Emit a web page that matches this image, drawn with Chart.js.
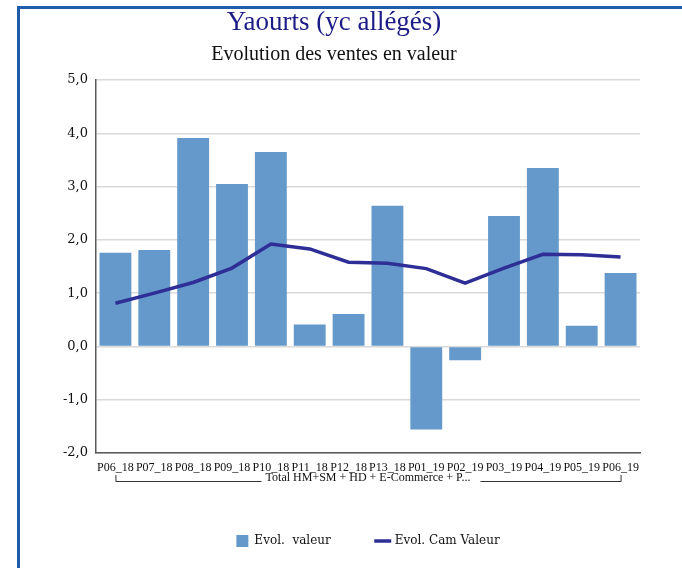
<!DOCTYPE html>
<html>
<head>
<meta charset="utf-8">
<script src="https://cdn.jsdelivr.net/npm/chart.js@4.4.1/dist/chart.umd.min.js"></script>
<style>
  html, body { margin: 0; padding: 0; background: #fff; }
  #wrap { position: relative; width: 682px; height: 568px; overflow: hidden; }
  #frame {
    position: absolute; left: 17px; top: 6px; right: -10px; bottom: -10px;
    border-left: 3px solid #1f5cab; border-top: 3px solid #1f5cab;
  }
  canvas { position: absolute; left: 0; top: 0; }
</style>
</head>
<body>
<div id="wrap">
  <div id="frame"></div>
  <canvas id="chart" width="682" height="568"></canvas>
</div>
<script>
const periods = ['P06_18', 'P07_18', 'P08_18', 'P09_18', 'P10_18', 'P11_18', 'P12_18',
                 'P13_18', 'P01_19', 'P02_19', 'P03_19', 'P04_19', 'P05_19', 'P06_19'];
const evolValeur = [1.76, 1.81, 3.91, 3.05, 3.65, 0.41, 0.61, 2.64, -1.56, -0.26, 2.45, 3.35, 0.39, 1.38];
const evolCamValeur = [0.81, 1.00, 1.20, 1.47, 1.92, 1.83, 1.58, 1.56, 1.46, 1.19, 1.47, 1.73, 1.72, 1.68];
const yTicks = [-2, -1, 0, 1, 2, 3, 4, 5];

const chartTitle = 'Yaourts (yc allégés)';
const chartSubtitle = 'Evolution des ventes en valeur';
const groupLabel = 'Total HM+SM + HD + E-Commerce + P...';

// titles + category group bracket under the x axis
const decorations = {
    id: 'decorations',
    afterDraw(chart) {
        const ctx = chart.ctx;
        const x = chart.scales.x;
        ctx.save();
        ctx.textAlign = 'center';
        ctx.textBaseline = 'middle';
        ctx.fillStyle = '#1c1c86';
        ctx.font = '27px "Liberation Serif"';
        ctx.fillText(chartTitle, 334, 23);
        ctx.fillStyle = '#111';
        ctx.font = '20px "Liberation Serif"';
        ctx.fillText(chartSubtitle, 334, 55);

        // bracket
        const x0 = x.getPixelForValue(0);
        const x1 = x.getPixelForValue(periods.length - 1);
        const cx = (x0 + x1) / 2;
        const yTop = 475, yLine = 481;
        ctx.font = '12px "Liberation Serif"';
        const tw = ctx.measureText(groupLabel).width;
        ctx.fillStyle = '#111';
        ctx.fillText(groupLabel, cx, 478);
        ctx.strokeStyle = '#333';
        ctx.lineWidth = 1;
        ctx.beginPath();
        ctx.moveTo(x0 + 0.5, yTop);
        ctx.lineTo(x0 + 0.5, yLine + 0.5);
        ctx.lineTo(cx - tw / 2 - 4, yLine + 0.5);
        ctx.moveTo(cx + tw / 2 + 10, yLine + 0.5);
        ctx.lineTo(x1 + 0.5, yLine + 0.5);
        ctx.lineTo(x1 + 0.5, yTop);
        ctx.stroke();
        ctx.restore();
    }
};

// wide gap between legend items, but keep the legend box short
const legendFit = {
    id: 'legendFit',
    beforeLayout(chart) {
        const lg = chart.legend;
        if (lg && !lg._shortFit) {
            const fit = lg.fit;
            lg.fit = function () { fit.call(this); this.height = 79; };
            lg._shortFit = true;
        }
    }
};

new Chart(document.getElementById('chart'), {
    data: {
        labels: periods,
        datasets: [
            {
                type: 'bar',
                label: 'Evol.  valeur',
                data: evolValeur,
                backgroundColor: '#6599cb',
                borderWidth: 0,
                barPercentage: 0.82,
                categoryPercentage: 1,
                pointStyle: 'rect',
                order: 1
            },
            {
                type: 'line',
                label: 'Evol. Cam Valeur',
                data: evolCamValeur,
                borderColor: '#2e2e96',
                backgroundColor: '#2e2e96',
                borderWidth: 3.5,
                pointRadius: 0,
                tension: 0,
                pointStyle: 'line',
                order: 0
            }
        ]
    },
    options: {
        responsive: false,
        animation: false,
        layout: { padding: { left: 40, right: 42, top: 80, bottom: 0 } },
        plugins: {
            title: { display: false },
            tooltip: { enabled: false },
            legend: {
                position: 'bottom',
                fullSize: false,
                labels: {
                    usePointStyle: true,
                    boxHeight: 12,
                    padding: 46,
                    color: '#111',
                    font: { family: 'DejaVu Serif', size: 12 },
                    sort: (a, b) => a.datasetIndex - b.datasetIndex
                }
            }
        },
        scales: {
            x: {
                grid: { display: false, drawTicks: false },
                border: { color: '#595959', width: 1.5 },
                ticks: {
                    color: '#111',
                    font: { family: 'Liberation Serif', size: 12 },
                    maxRotation: 0,
                    autoSkip: false,
                    padding: 8
                },
                afterFit(scale) { scale.height = 36; }
            },
            y: {
                min: -2,
                max: 5,
                afterBuildTicks(scale) { scale.ticks = yTicks.map(v => ({ value: v })); },
                grid: { color: '#d9d9d9', lineWidth: 1.5, drawTicks: false },
                border: { color: '#595959', width: 1.5 },
                ticks: {
                    color: '#111',
                    font: { family: 'DejaVu Serif', size: 13 },
                    padding: 8,
                    callback: v => v.toFixed(1).replace('.', ',')
                },
                afterFit(scale) { scale.width = 56; }
            }
        }
    },
    plugins: [decorations, legendFit]
});
</script>
</body>
</html>
